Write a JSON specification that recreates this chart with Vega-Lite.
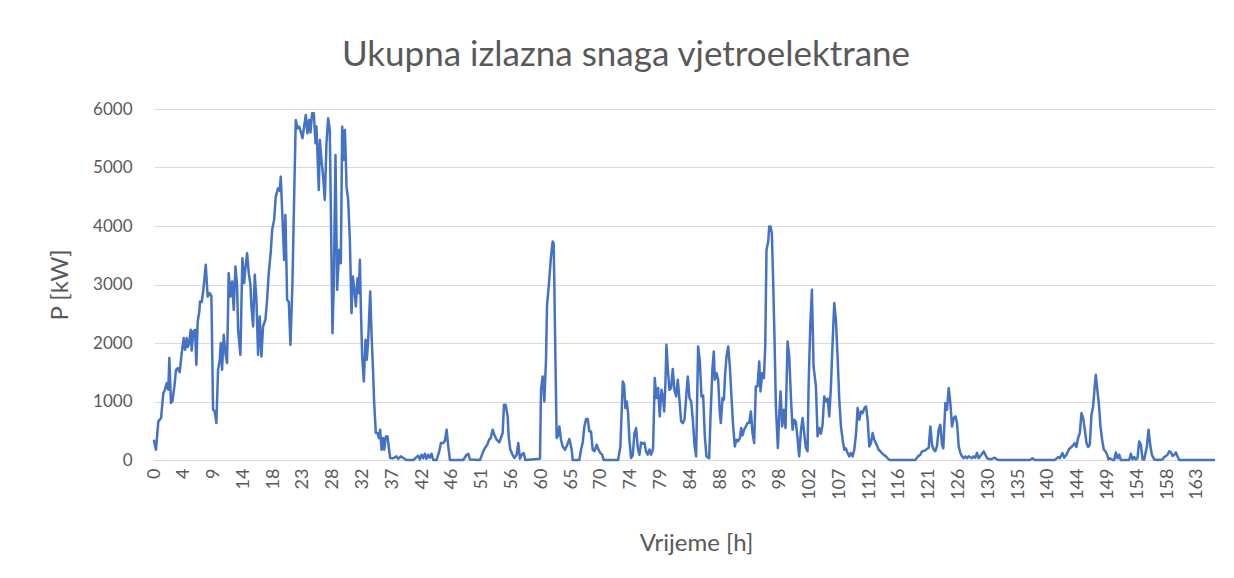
{
  "$schema": "https://vega.github.io/schema/vega-lite/v6.json",
  "width": 1060,
  "height": 351,
  "autosize": {"type": "none"},
  "padding": {"left": 154, "top": 109, "right": 20, "bottom": 118},
  "background": "white",
  "config": {
    "font": "Lato",
    "view": {"stroke": null},
    "axis": {"labelColor": "#595959", "titleColor": "#595959", "labelFont": "Lato", "titleFont": "Lato", "titleFontWeight": "normal"}
  },
  "title": {
    "text": "Ukupna izlazna snaga vjetroelektrane",
    "fontSize": 35,
    "font": "Lato",
    "fontWeight": "normal",
    "color": "#595959",
    "anchor": "middle",
    "dx": -58,
    "offset": 27
  },
  "data": {
    "values": [
      {"h": 0, "p": 330}, {"h": 0.31, "p": 176}, {"h": 0.68, "p": 660}, {"h": 1.10, "p": 717}, {"h": 1.46, "p": 1144},
      {"h": 1.72, "p": 1200}, {"h": 1.99, "p": 1315}, {"h": 2.25, "p": 1200}, {"h": 2.40, "p": 1742}, {"h": 2.66, "p": 974},
      {"h": 2.87, "p": 1000}, {"h": 3.19, "p": 1257}, {"h": 3.45, "p": 1542}, {"h": 3.71, "p": 1570}, {"h": 4.02, "p": 1500},
      {"h": 4.34, "p": 1827}, {"h": 4.65, "p": 2084}, {"h": 4.86, "p": 1884}, {"h": 5.12, "p": 2084}, {"h": 5.28, "p": 1930},
      {"h": 5.49, "p": 1990}, {"h": 5.75, "p": 2225}, {"h": 5.90, "p": 1870}, {"h": 6.16, "p": 2200}, {"h": 6.43, "p": 2225},
      {"h": 6.63, "p": 1628}, {"h": 6.84, "p": 2368}, {"h": 7.10, "p": 2538}, {"h": 7.21, "p": 2709}, {"h": 7.47, "p": 2700},
      {"h": 7.73, "p": 2909}, {"h": 8.10, "p": 3336}, {"h": 8.41, "p": 2794}, {"h": 8.73, "p": 2852}, {"h": 8.99, "p": 2800},
      {"h": 9.25, "p": 859}, {"h": 9.51, "p": 830}, {"h": 9.77, "p": 632}, {"h": 10.03, "p": 1542}, {"h": 10.29, "p": 1700},
      {"h": 10.45, "p": 1998}, {"h": 10.66, "p": 1542}, {"h": 10.92, "p": 2140}, {"h": 11.18, "p": 1827}, {"h": 11.44, "p": 1657},
      {"h": 11.70, "p": 3194}, {"h": 11.96, "p": 2794}, {"h": 12.23, "p": 3050}, {"h": 12.49, "p": 2567}, {"h": 12.75, "p": 3307},
      {"h": 13.01, "p": 3000}, {"h": 13.17, "p": 2225}, {"h": 13.53, "p": 1798}, {"h": 13.84, "p": 3450}, {"h": 14.11, "p": 3023},
      {"h": 14.32, "p": 3279}, {"h": 14.58, "p": 3535}, {"h": 14.84, "p": 3194}, {"h": 15.10, "p": 3000}, {"h": 15.26, "p": 2624},
      {"h": 15.52, "p": 2282}, {"h": 15.78, "p": 3165}, {"h": 16.04, "p": 2738}, {"h": 16.30, "p": 1798}, {"h": 16.56, "p": 2453},
      {"h": 16.82, "p": 1770}, {"h": 17.08, "p": 2282}, {"h": 17.45, "p": 2400}, {"h": 17.71, "p": 2738}, {"h": 17.97, "p": 3194},
      {"h": 18.29, "p": 3563}, {"h": 18.50, "p": 3933}, {"h": 18.81, "p": 4104}, {"h": 19.07, "p": 4502}, {"h": 19.44, "p": 4646},
      {"h": 19.70, "p": 4600}, {"h": 19.85, "p": 4844}, {"h": 20.11, "p": 4161}, {"h": 20.38, "p": 3421}, {"h": 20.58, "p": 4190},
      {"h": 20.85, "p": 2738}, {"h": 21.11, "p": 2700}, {"h": 21.37, "p": 1969}, {"h": 21.68, "p": 3023}, {"h": 21.94, "p": 4446},
      {"h": 22.20, "p": 5812}, {"h": 22.47, "p": 5670}, {"h": 22.73, "p": 5700}, {"h": 22.99, "p": 5613}, {"h": 23.25, "p": 5500},
      {"h": 23.51, "p": 5698}, {"h": 23.77, "p": 5898}, {"h": 24.03, "p": 5585}, {"h": 24.29, "p": 5812}, {"h": 24.50, "p": 5600},
      {"h": 24.76, "p": 5927}, {"h": 25.03, "p": 5927}, {"h": 25.29, "p": 5414}, {"h": 25.44, "p": 5700}, {"h": 25.60, "p": 5243},
      {"h": 25.81, "p": 4617}, {"h": 25.97, "p": 5471}, {"h": 26.23, "p": 5129}, {"h": 26.49, "p": 4844}, {"h": 26.75, "p": 4446},
      {"h": 27.01, "p": 5414}, {"h": 27.27, "p": 5841}, {"h": 27.53, "p": 5641}, {"h": 27.95, "p": 2169}, {"h": 28.16, "p": 3023},
      {"h": 28.42, "p": 5214}, {"h": 28.68, "p": 2909}, {"h": 29.00, "p": 3592}, {"h": 29.26, "p": 3364}, {"h": 29.47, "p": 5698},
      {"h": 29.68, "p": 5129}, {"h": 29.89, "p": 5641}, {"h": 30.04, "p": 5129}, {"h": 30.15, "p": 4673}, {"h": 30.41, "p": 4446},
      {"h": 30.67, "p": 3763}, {"h": 30.93, "p": 2511}, {"h": 31.14, "p": 3136}, {"h": 31.35, "p": 2950}, {"h": 31.61, "p": 2624},
      {"h": 31.87, "p": 3108}, {"h": 32.08, "p": 2852}, {"h": 32.24, "p": 3421}, {"h": 32.39, "p": 2624}, {"h": 32.60, "p": 1770},
      {"h": 32.86, "p": 1342}, {"h": 33.12, "p": 2054}, {"h": 33.33, "p": 1713}, {"h": 33.54, "p": 2054}, {"h": 33.86, "p": 2880},
      {"h": 34.06, "p": 2169}, {"h": 34.27, "p": 1628}, {"h": 34.48, "p": 974}, {"h": 34.74, "p": 461}, {"h": 35.00, "p": 461},
      {"h": 35.21, "p": 376}, {"h": 35.42, "p": 518}, {"h": 35.63, "p": 176}, {"h": 35.89, "p": 376}, {"h": 36.05, "p": 176},
      {"h": 36.31, "p": 400}, {"h": 36.57, "p": 404}, {"h": 36.78, "p": 205}, {"h": 36.99, "p": 34}, {"h": 37.46, "p": 30},
      {"h": 37.98, "p": 62}, {"h": 38.24, "p": 20}, {"h": 38.66, "p": 62}, {"h": 39.03, "p": 34}, {"h": 39.5, "p": 0},
      {"h": 40.60, "p": 0}, {"h": 41.12, "p": 50}, {"h": 41.38, "p": 72}, {"h": 41.64, "p": 10}, {"h": 41.90, "p": 90},
      {"h": 42.16, "p": 30}, {"h": 42.42, "p": 107}, {"h": 42.68, "p": 20}, {"h": 42.95, "p": 90}, {"h": 43.21, "p": 40},
      {"h": 43.47, "p": 107}, {"h": 43.73, "p": 0}, {"h": 44.25, "p": 0}, {"h": 44.67, "p": 147}, {"h": 44.93, "p": 290},
      {"h": 45.30, "p": 290}, {"h": 45.56, "p": 330}, {"h": 45.82, "p": 518}, {"h": 46.08, "p": 232}, {"h": 46.34, "p": 0},
      {"h": 48.43, "p": 0}, {"h": 48.95, "p": 90}, {"h": 49.22, "p": 107}, {"h": 49.48, "p": 10}, {"h": 51.05, "p": 0},
      {"h": 51.57, "p": 147}, {"h": 51.83, "p": 205}, {"h": 52.19, "p": 261}, {"h": 52.51, "p": 358}, {"h": 52.72, "p": 370},
      {"h": 53.03, "p": 518}, {"h": 53.29, "p": 432}, {"h": 53.66, "p": 347}, {"h": 54.08, "p": 301}, {"h": 54.34, "p": 380},
      {"h": 54.60, "p": 461}, {"h": 54.81, "p": 944}, {"h": 55.07, "p": 944}, {"h": 55.38, "p": 745}, {"h": 55.54, "p": 404},
      {"h": 55.80, "p": 176}, {"h": 56.16, "p": 90}, {"h": 56.43, "p": 34}, {"h": 56.79, "p": 90}, {"h": 57.05, "p": 290},
      {"h": 57.31, "p": 20}, {"h": 57.58, "p": 90}, {"h": 57.89, "p": 119}, {"h": 58.15, "p": 0}, {"h": 60.45, "p": 20},
      {"h": 60.61, "p": 1200}, {"h": 60.87, "p": 1428}, {"h": 61.13, "p": 1000}, {"h": 61.39, "p": 1713}, {"h": 61.55, "p": 2652},
      {"h": 61.81, "p": 2965}, {"h": 62.17, "p": 3477}, {"h": 62.43, "p": 3734}, {"h": 62.59, "p": 3700}, {"h": 62.70, "p": 2965},
      {"h": 62.85, "p": 1827}, {"h": 63.06, "p": 376}, {"h": 63.32, "p": 420}, {"h": 63.48, "p": 574}, {"h": 63.74, "p": 347},
      {"h": 64.00, "p": 232}, {"h": 64.37, "p": 176}, {"h": 64.68, "p": 250}, {"h": 65.05, "p": 358}, {"h": 65.41, "p": 176},
      {"h": 65.57, "p": 0}, {"h": 66.61, "p": 0}, {"h": 66.87, "p": 176}, {"h": 67.14, "p": 300}, {"h": 67.40, "p": 574},
      {"h": 67.66, "p": 700}, {"h": 67.92, "p": 700}, {"h": 68.18, "p": 489}, {"h": 68.44, "p": 489}, {"h": 68.70, "p": 176},
      {"h": 68.97, "p": 150}, {"h": 69.33, "p": 261}, {"h": 69.59, "p": 180}, {"h": 69.91, "p": 119}, {"h": 70.17, "p": 90},
      {"h": 70.43, "p": 0}, {"h": 72.68, "p": 0}, {"h": 73.04, "p": 232}, {"h": 73.41, "p": 1342}, {"h": 73.62, "p": 1290},
      {"h": 73.82, "p": 888}, {"h": 74.03, "p": 1000}, {"h": 74.24, "p": 802}, {"h": 74.45, "p": 347}, {"h": 74.71, "p": 34},
      {"h": 74.97, "p": 80}, {"h": 75.24, "p": 461}, {"h": 75.50, "p": 546}, {"h": 75.76, "p": 205}, {"h": 76.02, "p": 90},
      {"h": 76.28, "p": 301}, {"h": 76.54, "p": 280}, {"h": 76.80, "p": 295}, {"h": 77.06, "p": 147}, {"h": 77.32, "p": 90},
      {"h": 77.59, "p": 180}, {"h": 77.85, "p": 90}, {"h": 78.16, "p": 200}, {"h": 78.42, "p": 1400}, {"h": 78.68, "p": 1059},
      {"h": 78.94, "p": 1230}, {"h": 79.20, "p": 745}, {"h": 79.47, "p": 1200}, {"h": 79.73, "p": 1059}, {"h": 79.89, "p": 830},
      {"h": 80.09, "p": 1300}, {"h": 80.25, "p": 1969}, {"h": 80.46, "p": 1571}, {"h": 80.72, "p": 1200}, {"h": 80.98, "p": 1230},
      {"h": 81.24, "p": 1554}, {"h": 81.50, "p": 1200}, {"h": 81.77, "p": 1086}, {"h": 82.03, "p": 1371}, {"h": 82.29, "p": 1029},
      {"h": 82.55, "p": 660}, {"h": 82.81, "p": 631}, {"h": 83.07, "p": 688}, {"h": 83.33, "p": 1059}, {"h": 83.59, "p": 1428},
      {"h": 83.86, "p": 1059}, {"h": 84.12, "p": 1000}, {"h": 84.38, "p": 688}, {"h": 84.64, "p": 261}, {"h": 84.90, "p": 62},
      {"h": 85.21, "p": 1940}, {"h": 85.48, "p": 1684}, {"h": 85.74, "p": 1086}, {"h": 86.00, "p": 1100}, {"h": 86.26, "p": 404},
      {"h": 86.52, "p": 62}, {"h": 86.94, "p": 30}, {"h": 87.15, "p": 745}, {"h": 87.46, "p": 1571}, {"h": 87.67, "p": 1855},
      {"h": 87.83, "p": 1371}, {"h": 88.09, "p": 1485}, {"h": 88.35, "p": 1371}, {"h": 88.61, "p": 802}, {"h": 88.77, "p": 632},
      {"h": 89.03, "p": 1059}, {"h": 89.24, "p": 1030}, {"h": 89.45, "p": 1485}, {"h": 89.66, "p": 1770}, {"h": 89.92, "p": 1940},
      {"h": 90.18, "p": 1599}, {"h": 90.44, "p": 1059}, {"h": 90.70, "p": 574}, {"h": 90.96, "p": 232}, {"h": 91.22, "p": 347},
      {"h": 91.48, "p": 320}, {"h": 91.75, "p": 376}, {"h": 91.95, "p": 546}, {"h": 92.16, "p": 420}, {"h": 92.42, "p": 518},
      {"h": 92.69, "p": 574}, {"h": 92.95, "p": 632}, {"h": 93.21, "p": 632}, {"h": 93.47, "p": 830}, {"h": 93.73, "p": 461},
      {"h": 93.99, "p": 290}, {"h": 94.25, "p": 1257}, {"h": 94.51, "p": 1257}, {"h": 94.78, "p": 1684}, {"h": 94.98, "p": 1172},
      {"h": 95.25, "p": 1485}, {"h": 95.51, "p": 1400}, {"h": 95.72, "p": 1940}, {"h": 95.92, "p": 3592}, {"h": 96.19, "p": 3734},
      {"h": 96.34, "p": 3990}, {"h": 96.55, "p": 3990}, {"h": 96.76, "p": 3877}, {"h": 96.97, "p": 3023}, {"h": 97.18, "p": 2054},
      {"h": 97.39, "p": 916}, {"h": 97.70, "p": 205}, {"h": 97.91, "p": 745}, {"h": 98.12, "p": 1172}, {"h": 98.38, "p": 574},
      {"h": 98.64, "p": 860}, {"h": 98.90, "p": 546}, {"h": 99.22, "p": 2026}, {"h": 99.48, "p": 1770}, {"h": 99.74, "p": 1086},
      {"h": 100.00, "p": 518}, {"h": 100.26, "p": 688}, {"h": 100.52, "p": 650}, {"h": 100.78, "p": 376}, {"h": 101.04, "p": 62},
      {"h": 101.31, "p": 500}, {"h": 101.57, "p": 717}, {"h": 101.83, "p": 450}, {"h": 102.09, "p": 205}, {"h": 102.35, "p": 150},
      {"h": 102.51, "p": 1257}, {"h": 102.77, "p": 2282}, {"h": 103.03, "p": 2909}, {"h": 103.29, "p": 1599}, {"h": 103.66, "p": 1257},
      {"h": 103.92, "p": 404}, {"h": 104.18, "p": 546}, {"h": 104.44, "p": 450}, {"h": 104.70, "p": 603}, {"h": 104.96, "p": 1086},
      {"h": 105.22, "p": 1000}, {"h": 105.49, "p": 1050}, {"h": 105.75, "p": 745}, {"h": 106.01, "p": 1257}, {"h": 106.27, "p": 2000},
      {"h": 106.53, "p": 2682}, {"h": 106.79, "p": 2396}, {"h": 107.05, "p": 1770}, {"h": 107.32, "p": 1029}, {"h": 107.58, "p": 574},
      {"h": 107.84, "p": 347}, {"h": 108.10, "p": 176}, {"h": 108.36, "p": 200}, {"h": 108.62, "p": 119}, {"h": 108.88, "p": 62},
      {"h": 109.14, "p": 119}, {"h": 109.40, "p": 62}, {"h": 109.67, "p": 176}, {"h": 109.93, "p": 432}, {"h": 110.19, "p": 888},
      {"h": 110.45, "p": 688}, {"h": 110.71, "p": 830}, {"h": 110.97, "p": 800}, {"h": 111.24, "p": 888}, {"h": 111.50, "p": 916},
      {"h": 111.76, "p": 688}, {"h": 112.02, "p": 232}, {"h": 112.28, "p": 290}, {"h": 112.54, "p": 461}, {"h": 112.80, "p": 347},
      {"h": 113.17, "p": 261}, {"h": 113.48, "p": 176}, {"h": 113.74, "p": 150}, {"h": 114.00, "p": 119}, {"h": 114.26, "p": 90},
      {"h": 114.63, "p": 62}, {"h": 114.89, "p": 30}, {"h": 115.15, "p": 0}, {"h": 119.23, "p": 0}, {"h": 119.64, "p": 62},
      {"h": 120.01, "p": 90}, {"h": 120.27, "p": 147}, {"h": 120.79, "p": 164}, {"h": 121.05, "p": 190}, {"h": 121.32, "p": 205},
      {"h": 121.58, "p": 574}, {"h": 121.84, "p": 261}, {"h": 122.10, "p": 176}, {"h": 122.36, "p": 150}, {"h": 122.62, "p": 240},
      {"h": 122.88, "p": 518}, {"h": 123.14, "p": 603}, {"h": 123.41, "p": 261}, {"h": 123.61, "p": 200}, {"h": 123.93, "p": 974},
      {"h": 124.19, "p": 859}, {"h": 124.45, "p": 1230}, {"h": 124.71, "p": 974}, {"h": 124.97, "p": 574}, {"h": 125.24, "p": 717},
      {"h": 125.50, "p": 745}, {"h": 125.76, "p": 632}, {"h": 126.02, "p": 232}, {"h": 126.28, "p": 119}, {"h": 126.54, "p": 62},
      {"h": 126.80, "p": 30}, {"h": 127.06, "p": 62}, {"h": 127.32, "p": 30}, {"h": 127.59, "p": 62}, {"h": 128.11, "p": 30},
      {"h": 128.37, "p": 62}, {"h": 128.63, "p": 40}, {"h": 128.89, "p": 119}, {"h": 129.15, "p": 30}, {"h": 129.57, "p": 90},
      {"h": 129.94, "p": 147}, {"h": 130.20, "p": 90}, {"h": 130.46, "p": 30}, {"h": 130.98, "p": 10}, {"h": 131.66, "p": 40},
      {"h": 132.03, "p": 10}, {"h": 132.29, "p": 0}, {"h": 137.15, "p": 0}, {"h": 137.57, "p": 30}, {"h": 137.93, "p": 0},
      {"h": 141.07, "p": 0}, {"h": 141.59, "p": 50}, {"h": 141.85, "p": 30}, {"h": 142.27, "p": 119}, {"h": 142.53, "p": 40},
      {"h": 142.89, "p": 90}, {"h": 143.31, "p": 188}, {"h": 143.68, "p": 222}, {"h": 143.94, "p": 250}, {"h": 144.20, "p": 290},
      {"h": 144.46, "p": 222}, {"h": 144.72, "p": 376}, {"h": 144.98, "p": 461}, {"h": 145.25, "p": 802}, {"h": 145.51, "p": 717},
      {"h": 145.77, "p": 518}, {"h": 146.03, "p": 290}, {"h": 146.29, "p": 222}, {"h": 146.55, "p": 260}, {"h": 146.81, "p": 774},
      {"h": 147.07, "p": 916}, {"h": 147.34, "p": 1286}, {"h": 147.49, "p": 1457}, {"h": 147.75, "p": 1172}, {"h": 147.96, "p": 974},
      {"h": 148.22, "p": 574}, {"h": 148.48, "p": 347}, {"h": 148.75, "p": 176}, {"h": 149.01, "p": 147}, {"h": 149.27, "p": 90},
      {"h": 149.48, "p": 10}, {"h": 149.69, "p": 30}, {"h": 150.16, "p": 0}, {"h": 150.37, "p": 0}, {"h": 150.63, "p": 130},
      {"h": 150.89, "p": 30}, {"h": 151.15, "p": 90}, {"h": 151.41, "p": 0}, {"h": 152.72, "p": 0}, {"h": 152.98, "p": 107},
      {"h": 153.24, "p": 10}, {"h": 153.50, "p": 50}, {"h": 153.76, "p": 10}, {"h": 154.02, "p": 30}, {"h": 154.28, "p": 318},
      {"h": 154.55, "p": 260}, {"h": 154.81, "p": 10}, {"h": 155.07, "p": 10}, {"h": 155.49, "p": 232}, {"h": 155.75, "p": 518},
      {"h": 156.01, "p": 260}, {"h": 156.27, "p": 90}, {"h": 156.64, "p": 10}, {"h": 157.16, "p": 0}, {"h": 157.94, "p": 10},
      {"h": 158.20, "p": 50}, {"h": 158.46, "p": 70}, {"h": 158.72, "p": 90}, {"h": 158.98, "p": 147}, {"h": 159.25, "p": 130},
      {"h": 159.51, "p": 70}, {"h": 159.77, "p": 90}, {"h": 160.03, "p": 130}, {"h": 160.29, "p": 60}, {"h": 160.55, "p": 0},
      {"h": 166.0, "p": 0}
    ]
  },
  "mark": {"type": "line", "color": "#4472C4", "strokeWidth": 2.5, "strokeJoin": "round", "strokeCap": "round", "interpolate": "linear"},
  "encoding": {
    "x": {
      "field": "h",
      "type": "quantitative",
      "scale": {"domain": [0, 166.0], "nice": false, "zero": false},
      "axis": {
        "title": "Vrijeme [h]",
        "titleFontSize": 24,
        "titlePadding": 32,
        "titleX": 542,
        "values": [0, 4.6667, 9.3333, 14, 18.6667, 23.3333, 28, 32.6667, 37.3333, 42, 46.6667, 51.3333, 56, 60.6667, 65.3333, 70, 74.6667, 79.3333, 84, 88.6667, 93.3333, 98, 102.6667, 107.3333, 112, 116.6667, 121.3333, 126, 130.6667, 135.3333, 140, 144.6667, 149.3333, 154, 158.6667, 163.3333],
        "labelExpr": "floor(datum.value)",
        "labelAngle": -90,
        "labelAlign": "right",
        "labelBaseline": "middle",
        "labelFontSize": 18,
        "labelPadding": 8,
        "labelOverlap": false,
        "labelFlush": false,
        "ticks": false,
        "grid": false,
        "domain": true,
        "domainColor": "#d9d9d9",
        "domainWidth": 1
      }
    },
    "y": {
      "field": "p",
      "type": "quantitative",
      "scale": {"domain": [0, 6000], "nice": false},
      "axis": {
        "title": "P [kW]",
        "titleFontSize": 24,
        "titlePadding": 20,
        "values": [0, 1000, 2000, 3000, 4000, 5000, 6000],
        "format": "d",
        "labelFontSize": 17,
        "labelPadding": 22,
        "ticks": false,
        "domain": false,
        "grid": true,
        "gridColor": "#d9d9d9",
        "gridWidth": 1
      }
    }
  }
}
